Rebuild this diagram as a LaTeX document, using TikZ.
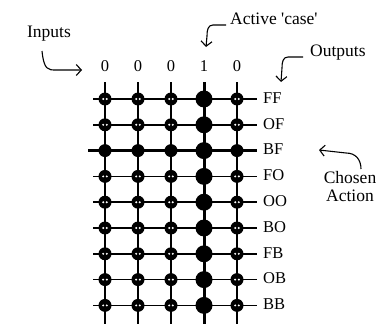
\documentclass[tikz,border=0pt]{standalone}
\usepackage{fontspec}
\setmainfont{Liberation Serif}
\newfontfamily\plainserif{Liberation Serif}
\usetikzlibrary{arrows.meta}
\begin{document}
\begin{tikzpicture}[x=1pt,y=-1pt,
  dot/.style={circle,fill=black,inner sep=0pt,minimum size=13pt},
  bigdot/.style={circle,fill=black,inner sep=0pt,minimum size=17pt},
  wire/.style={line width=1.5pt},
  heavy/.style={line width=3pt},
  lbl/.style={font=\plainserif\fontsize{16.5}{16.5}\selectfont,inner sep=0pt},
  note/.style={font=\plainserif\fontsize{17.5}{18}\selectfont,inner sep=0pt,align=center},
  hook/.style={line width=1.1pt,-{Straight Barb[length=5pt,width=11pt]}}]
\useasboundingbox (0,0) rectangle (381,324);
% column wires
\foreach \j/\x in {0/105,1/138,2/171,3/204,4/237}{
  \coordinate (ct\j) at (\x,82);
  \coordinate (cb\j) at (\x,324);
  \node[lbl] (in\j) at (\x,66) {\ifnum\j=3 1\else 0\fi};
}
\foreach \j in {0,1,2,4}{ \draw[wire] (ct\j) -- (cb\j); }
\draw[heavy] (ct3) -- (cb3);
% row wires and labels
\foreach \i/\t in {0/FF,1/OF,2/BF,3/FO,4/OO,5/BO,6/FB,7/OB,8/BB}{
  \pgfmathsetmacro\yy{99+25.8*\i}
  \coordinate (rl\i) at (\ifnum\i=2 88\else 93\fi,\yy);
  \coordinate (rr\i) at (257,\yy);
  \node[lbl,anchor=west] (out\i) at (263,\yy-1) {\t};
}
\foreach \i in {0,1,3,4,5,6,7,8}{ \draw[wire] (rl\i) -- (rr\i); }
\draw[heavy] (rl2) -- (rr2);
% junction dots
\foreach \j/\x in {0/105,1/138,2/171,3/204,4/237}{
  \foreach \i in {0,...,8}{
    \pgfmathsetmacro\yy{99+25.8*\i}
    \ifnum\j=3
      \node[bigdot] (d\i\j) at (\x,\yy) {};
    \else
      \node[dot] (d\i\j) at (\x,\yy) {};
      \ifnum\i=2 \else
        \fill[white] (\x-1.8,\yy) circle (1.1);
        \fill[white] (\x+1.8,\yy) circle (1.1);
      \fi
    \fi
  }
}
% annotations
\node[note] (inputs) at (49,34) {Inputs};
\coordinate (ia) at (42,51);
\coordinate (ib) at (82,70);
\draw[hook] (ia) .. controls (44,70) and (48,70) .. (56,70) -- (ib);

\node[note,anchor=west] (active) at (230,19) {Active 'case'};
\coordinate (aa) at (226,25);
\coordinate (ab) at (206,47);
\draw[hook] (aa) -- (213,25) .. controls (208,25) and (207,30) .. (207,36) -- (ab);

\node[note,anchor=west] (outputs) at (310,53) {Outputs};
\coordinate (oa) at (303,57);
\coordinate (ob) at (281,82);
\draw[hook] (oa) -- (288,57) .. controls (283,57) and (282,62) .. (282,68) -- (ob);

\node[note] (chosen) at (350,187) {Chosen\\Action};
\coordinate (ca) at (361,169);
\coordinate (cb) at (319,150);
\draw[hook] (ca) .. controls (361,160) and (356,153) .. (346,153) -- (cb);
\end{tikzpicture}
\end{document}
